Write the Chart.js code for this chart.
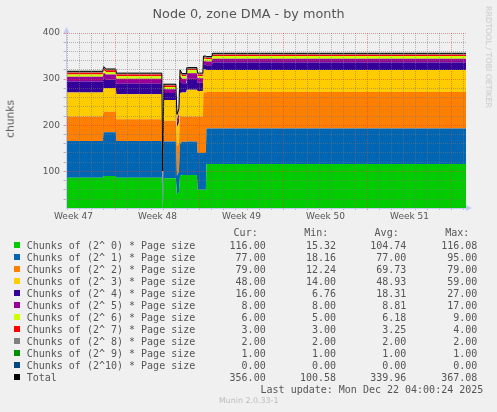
<!DOCTYPE html>
<html>
<head>
<meta charset="utf-8">
<script src="https://cdn.jsdelivr.net/npm/chart.js@4.4.1/dist/chart.umd.min.js"></script>
<style>
  html, body { margin: 0; padding: 0; background: #f0f0f0; }
  #quadro { position: relative; width: 497px; height: 412px; overflow: hidden; }
  #grafico { position: absolute; left: 0; top: 0; }
  .txt { position: absolute; white-space: pre; line-height: 1; color: #555; }
  .mono { font-family: 'DejaVu Sans Mono', monospace; font-size: 10px; }
  .sans { font-family: 'DejaVu Sans', sans-serif; }
  .caixa { position: absolute; width: 6px; height: 6px; }
</style>
</head>
<body>
<div id="quadro">
  <canvas id="grafico" width="497" height="412"></canvas>
</div>
<script>
// Tempo: dias contados a partir de domingo 16/11
const dias = [2.92, 5.94, 6.02, 6.23, 7.03, 7.07, 10.86, 10.94, 11.03, 12.03, 12.12, 12.28, 12.38, 12.55, 12.88, 12.94, 13.78, 13.84, 14.28, 14.33, 14.53, 14.58, 15.03, 15.08, 36.2];

// Valores de cada ordem
const pag0 = [86, 86, 90, 90, 90, 86, 86, 18, 85, 85, 50, 55, 90, 92, 92, 92, 92, 60, 60, 60, 60, 116, 116, 116, 116];
const pag1 = [80, 80, 95, 95, 95, 80, 80, 22, 80, 80, 40, 45, 70, 72, 72, 73, 73, 80, 80, 80, 80, 77, 77, 77, 77];
const pag2 = [53, 53, 44, 44, 44, 47, 47, 15, 45, 45, 65, 60, 60, 55, 55, 54, 54, 79, 79, 131, 131, 79, 79, 79, 79];
const pag3 = [52, 52, 52, 52, 52, 54, 54, 17, 45, 45, 40, 45, 50, 52, 52, 58, 58, 55, 55, 50, 50, 48, 48, 48, 48];
const pag4 = [24, 24, 22, 18, 18, 23, 23, 9, 15, 15, 10, 12, 25, 20, 20, 24, 24, 18, 18, 10, 10, 10, 10, 16, 16];
const pag5 = [10, 10, 11, 11, 11, 11, 11, 8, 8, 8, 8, 8, 12, 10, 10, 12, 12, 10, 10, 8, 8, 8, 8, 8, 8];
const pag6 = [5, 5, 6, 5, 5, 5, 5, 6, 5, 5, 5, 5, 6, 5, 5, 6, 6, 5, 5, 5, 5, 5, 5, 6, 6];
const pag7 = [4, 4, 4, 4, 4, 4, 4, 3, 3, 3, 3, 3, 4, 3, 3, 3, 3, 3, 3, 3, 3, 3, 3, 3, 3];
const pag8 = [2, 2, 2, 2, 2, 2, 2, 2, 2, 2, 2, 2, 2, 2, 2, 2, 2, 2, 2, 2, 2, 2, 2, 2, 2];
const pag9 = [1, 1, 1, 1, 1, 1, 1, 1, 1, 1, 1, 1, 1, 1, 1, 1, 1, 1, 1, 1, 1, 1, 1, 1, 1];
const pag10 = [0, 0, 0, 0, 0, 0, 0, 0, 0, 0, 0, 0, 0, 0, 0, 0, 0, 0, 0, 0, 0, 0, 0, 0, 0];

// Rótulos das semanas
const semanaPos = [3.5, 10.5, 17.5, 24.5, 31.5];
const semanaRot = ['Week 47', 'Week 48', 'Week 49', 'Week 50', 'Week 51'];

// Legenda
const nomes = [
  'Chunks of (2^ 0) * Page size',
  'Chunks of (2^ 1) * Page size',
  'Chunks of (2^ 2) * Page size',
  'Chunks of (2^ 3) * Page size',
  'Chunks of (2^ 4) * Page size',
  'Chunks of (2^ 5) * Page size',
  'Chunks of (2^ 6) * Page size',
  'Chunks of (2^ 7) * Page size',
  'Chunks of (2^ 8) * Page size',
  'Chunks of (2^ 9) * Page size',
  'Chunks of (2^10) * Page size',
  'Total',
];
const cores = ['#00CC00', '#0066B3', '#FF8000', '#FFCC00', '#330099', '#990099', '#CCFF00', '#FF0000', '#808080', '#008F00', '#00487D', '#000000'];
const atual = ['116.00', '77.00', '79.00', '48.00', '16.00', '8.00', '6.00', '3.00', '2.00', '1.00', '0.00', '356.00'];
const minimo = ['15.32', '18.16', '12.24', '14.00', '6.76', '8.00', '5.00', '3.00', '2.00', '1.00', '0.00', '100.58'];
const media = ['104.74', '77.00', '69.73', '48.93', '18.31', '8.81', '6.18', '3.25', '2.00', '1.00', '0.00', '339.96'];
const maximo = ['116.08', '95.00', '79.00', '59.00', '27.00', '17.00', '9.00', '4.00', '2.00', '1.00', '0.00', '367.08'];

const series = [pag0, pag1, pag2, pag3, pag4, pag5, pag6, pag7, pag8, pag9, pag10];
const total = dias.map((_, i) => series.reduce((s, arr) => s + arr[i], 0));

const gradeMenor = 'rgba(120,120,120,0.5)';
const gradeMaior = 'rgba(220,60,60,0.5)';
const corEixo = '#c4cbf0';

const datasets = series.map((arr, i) => ({
  label: nomes[i],
  data: arr.map((v, k) => ({ x: dias[k], y: v })),
  backgroundColor: cores[i],
  borderWidth: 0,
  pointRadius: 0,
  fill: i === 0 ? 'origin' : '-1',
  stack: 'ordens',
  tension: 0,
}));
datasets.push({
  label: 'Total',
  data: total.map((v, k) => ({ x: dias[k], y: v })),
  borderColor: '#000',
  borderWidth: 1,
  pointRadius: 0,
  fill: false,
  stack: 'total',
  order: -1,
  tension: 0,
});

// Setas nos eixos
const setas = {
  id: 'setas',
  afterDraw(chart) {
    const { ctx, chartArea: a } = chart;
    ctx.save();
    ctx.fillStyle = corEixo;
    ctx.beginPath();
    ctx.moveTo(a.left - 3, a.top);
    ctx.lineTo(a.left + 3, a.top);
    ctx.lineTo(a.left, a.top - 6);
    ctx.fill();
    ctx.beginPath();
    ctx.moveTo(a.right, a.bottom - 3);
    ctx.lineTo(a.right, a.bottom + 3);
    ctx.lineTo(a.right + 6, a.bottom);
    ctx.fill();
    ctx.restore();
  },
};

const ctx = document.getElementById('grafico').getContext('2d');
const grafico = new Chart(ctx, {
  type: 'line',
  data: { datasets },
  plugins: [setas],
  options: {
    responsive: false,
    animation: false,
    events: [],
    layout: { padding: { left: 0, top: 33, right: 31, bottom: 184 } },
    plugins: { legend: { display: false }, tooltip: { enabled: false }, title: { display: false } },
    scales: {
      x: {
        type: 'linear',
        min: 2.92,
        max: 36.2,
        bounds: 'data',
        afterFit: s => { s.height = 20; },
        afterBuildTicks: s => {
          const t = [];
          for (let d = 3; d <= 36; d++) t.push(d);
          s.ticks = t.concat(semanaPos).sort((a, b) => a - b).map(v => ({ value: v }));
        },
        grid: {
          z: 1,
          color: c => {
            if (!c.tick) return gradeMenor;
            const v = c.tick.value;
            if (semanaPos.includes(v)) return 'transparent';
            return v % 7 === 0 ? gradeMaior : gradeMenor;
          },
          tickLength: 2,
        },
        border: { display: true, z: 1, color: corEixo, width: 1, dash: [1, 1] },
        ticks: {
          autoSkip: false,
          maxRotation: 0,
          minRotation: 0,
          padding: 1,
          color: '#555',
          font: { family: 'DejaVu Sans', size: 9 },
          callback: v => {
            const k = semanaPos.indexOf(v);
            return k >= 0 ? semanaRot[k] : '';
          },
        },
      },
      y: {
        stacked: true,
        min: 20.6,
        max: 400,
        afterFit: s => { s.width = 66.5; },
        afterBuildTicks: s => {
          const t = [];
          for (let v = 40; v <= 400; v += 20) t.push({ value: v });
          s.ticks = t;
        },
        grid: {
          z: 1,
          color: c => (c.tick && c.tick.value % 100 === 0 ? gradeMaior : gradeMenor),
          tickLength: 3,
        },
        border: { display: true, z: 1, color: corEixo, width: 1, dash: [1, 1] },
        ticks: {
          autoSkip: false,
          padding: 3.5,
          color: '#555',
          font: { family: 'DejaVu Sans', size: 9 },
          callback: v => (v % 100 === 0 ? String(v) : ''),
        },
      },
    },
  },
});

// Textos fora da área do gráfico
const quadro = document.getElementById('quadro');
function texto(conteudo, x, y, alinhar, classe, extra) {
  const el = document.createElement('div');
  el.className = 'txt ' + classe;
  el.textContent = conteudo;
  el.style.left = x + 'px';
  el.style.top = y + 'px';
  const tx = alinhar === 'right' ? '-100%' : alinhar === 'center' ? '-50%' : '0';
  el.style.transform = 'translate(' + tx + ', -50%)' + (extra && extra.rot ? ' rotate(' + extra.rot + 'deg)' : '');
  if (extra && extra.size) el.style.fontSize = extra.size + 'px';
  if (extra && extra.cor) el.style.color = extra.cor;
  quadro.appendChild(el);
  return el;
}

texto('Node 0, zone DMA - by month', 248.5, 13.7, 'center', 'sans', { size: 12.8 });
texto('chunks', 10.7, 119, 'center', 'sans', { size: 10.7, rot: -90 });
texto('RRDTOOL / TOBI OETIKER', 488.3, 57, 'center', 'sans', { size: 7.9, rot: 90, cor: '#c8c8c8' });

texto('Cur:', 257.7, 233, 'right', 'mono');
texto('Min:', 328.3, 233, 'right', 'mono');
texto('Avg:', 398.7, 233, 'right', 'mono');
texto('Max:', 469.3, 233, 'right', 'mono');

nomes.forEach((nome, i) => {
  const y = 245.7 + 12 * i;
  const q = document.createElement('div');
  q.className = 'caixa';
  q.style.left = '14px';
  q.style.top = (y - 3.5) + 'px';
  q.style.background = cores[i];
  quadro.appendChild(q);
  texto(nome, 26.7, y, 'left', 'mono');
  texto(atual[i], 265.7, y, 'right', 'mono');
  texto(minimo[i], 336, y, 'right', 'mono');
  texto(media[i], 406.3, y, 'right', 'mono');
  texto(maximo[i], 477.3, y, 'right', 'mono');
});

texto('Last update: Mon Dec 22 04:00:24 2025', 483.3, 389.7, 'right', 'mono');
texto('Munin 2.0.33-1', 248.7, 401, 'center', 'sans', { size: 7.9, cor: '#bbbbbb' });
</script>
</body>
</html>
